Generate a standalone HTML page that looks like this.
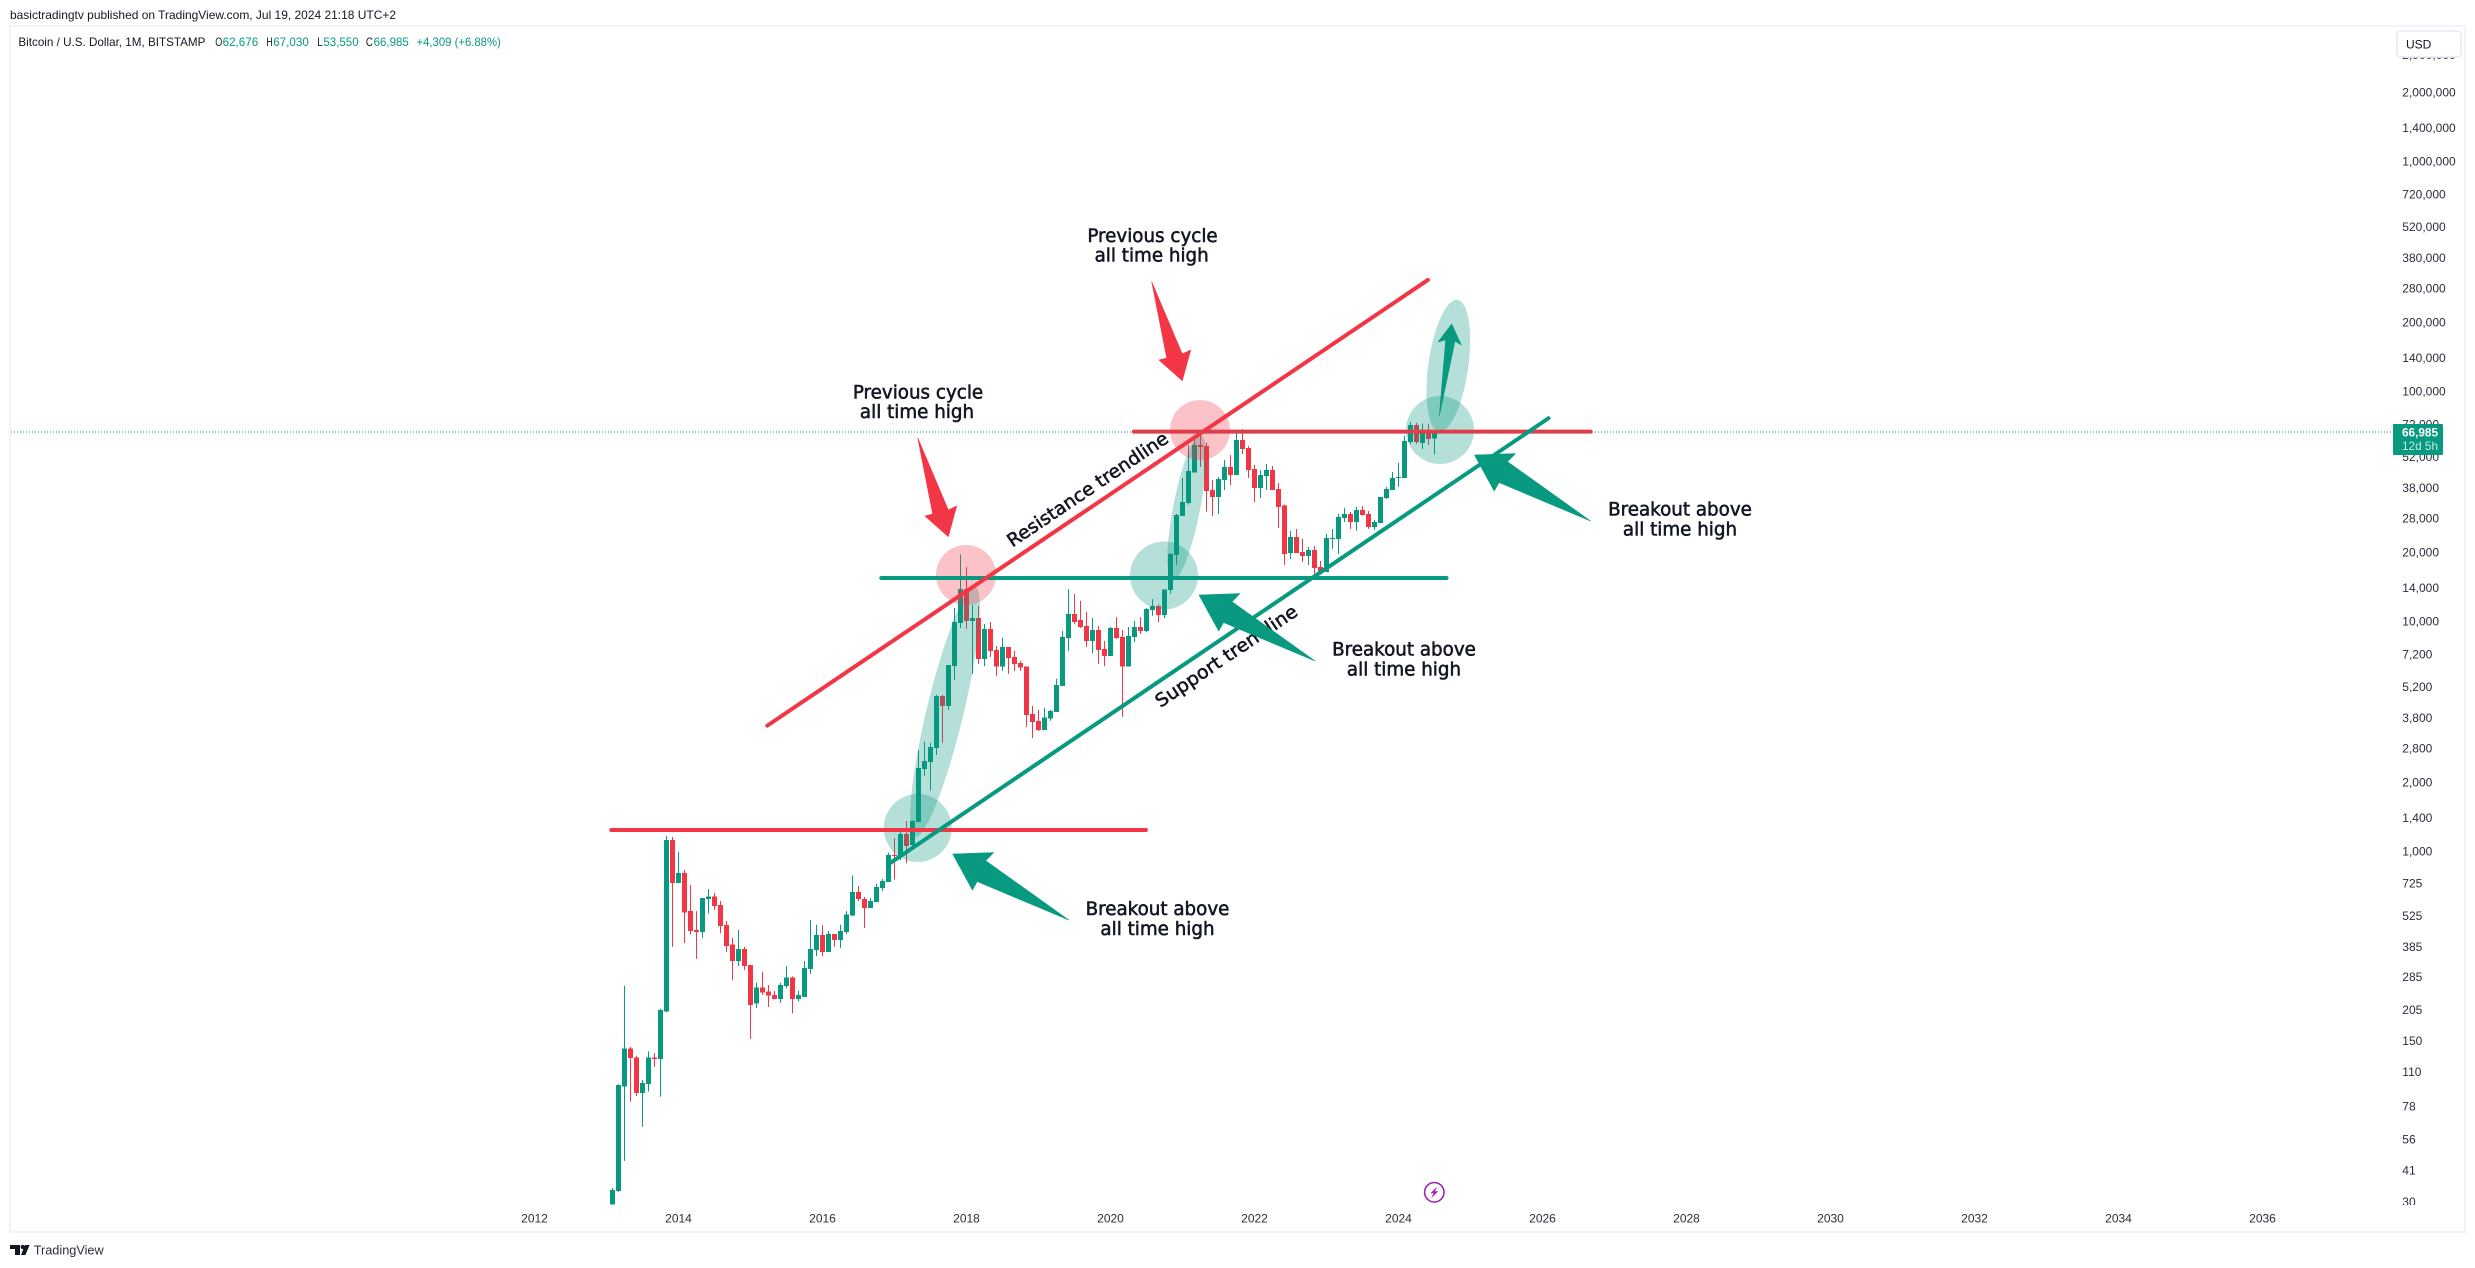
<!DOCTYPE html>
<html lang="en">
<head>
<meta charset="utf-8">
<title>Bitcoin / U.S. Dollar chart</title>
<style>
html,body{margin:0;padding:0;background:#fff;width:2475px;height:1268px;overflow:hidden}
svg{display:block}
text{font-family:"Liberation Sans",sans-serif;fill:#131722}
.note{font-family:"DejaVu Sans","Liberation Sans",sans-serif;font-size:18.3px;text-anchor:middle;dominant-baseline:central;stroke:#131722;stroke-width:.55}
.tick{font-size:12px;dominant-baseline:central;fill:#2a2e39}
.lg{font-size:12px;dominant-baseline:central}
.g{fill:#089981}
</style>
</head>
<body>
<svg id="chart" xmlns="http://www.w3.org/2000/svg" width="2475" height="1268" viewBox="0 0 2475 1268">
  <defs>
    <clipPath id="axis-clip"><rect x="2390" y="57" width="75" height="1148"/></clipPath>
  </defs>
  <rect x="0" y="0" width="2475" height="1268" fill="#ffffff"/>
  <rect x="10" y="26" width="2455" height="1206" fill="none" stroke="#f0f3fa" stroke-width="2"/>
  <text class="lg" x="10" y="15" textLength="386" lengthAdjust="spacingAndGlyphs">basictradingtv published on TradingView.com, Jul 19, 2024 21:18 UTC+2</text>
  <g>
    <text class="lg" x="18.4" y="42" textLength="187" lengthAdjust="spacingAndGlyphs">Bitcoin / U.S. Dollar, 1M, BITSTAMP</text>
    <text class="lg" x="215.3" y="42" textLength="7" lengthAdjust="spacingAndGlyphs">O</text>
    <text class="lg g" x="222.6" y="42" textLength="35.6" lengthAdjust="spacingAndGlyphs">62,676</text>
    <text class="lg" x="266.3" y="42" textLength="6.5" lengthAdjust="spacingAndGlyphs">H</text>
    <text class="lg g" x="273.2" y="42" textLength="35.6" lengthAdjust="spacingAndGlyphs">67,030</text>
    <text class="lg" x="317.2" y="42" textLength="5.5" lengthAdjust="spacingAndGlyphs">L</text>
    <text class="lg g" x="323.4" y="42" textLength="35.2" lengthAdjust="spacingAndGlyphs">53,550</text>
    <text class="lg" x="365.9" y="42" textLength="7" lengthAdjust="spacingAndGlyphs">C</text>
    <text class="lg g" x="373.6" y="42" textLength="35.2" lengthAdjust="spacingAndGlyphs">66,985</text>
    <text class="lg g" x="416.5" y="42" textLength="84.3" lengthAdjust="spacingAndGlyphs">+4,309 (+6.88%)</text>
  </g>
  <g id="y-axis" clip-path="url(#axis-clip)"></g>
  <g id="x-axis"></g>
  <g id="candles"></g>
  <g fill="#089981" fill-opacity=".3">
    <ellipse cx="945" cy="712" rx="18.5" ry="128.5" transform="rotate(13.5 945 712)"/>
    <ellipse cx="1186.7" cy="507.7" rx="13.5" ry="74" transform="rotate(11 1186.7 507.7)"/>
    <ellipse cx="1448.3" cy="365.7" rx="20" ry="66.5" transform="rotate(8 1448.3 365.7)"/>
  </g>
  <g>
    <circle cx="966" cy="575" r="30" fill="#f23645" fill-opacity=".3"/>
    <circle cx="1200" cy="430" r="30" fill="#f23645" fill-opacity=".3"/>
    <circle cx="917.7" cy="828" r="34" fill="#089981" fill-opacity=".3"/>
    <circle cx="1164" cy="575.5" r="34" fill="#089981" fill-opacity=".3"/>
    <circle cx="1440" cy="430" r="34" fill="#089981" fill-opacity=".3"/>
  </g>
  <g id="trendlines"></g>
  <text class="note" transform="translate(1088 490) rotate(-34)" x="0" y="0" textLength="190" lengthAdjust="spacingAndGlyphs">Resistance trendline</text>
  <text class="note" transform="translate(1226.7 656.7) rotate(-34)" x="0" y="0" textLength="167" lengthAdjust="spacingAndGlyphs">Support trendline</text>
  <g fill="#089981" stroke="#089981" stroke-width=".6" stroke-linejoin="round">
    <polygon transform="translate(952.7 854)" points="0,0 41,-1.5 33,6.7 116,66 24.5,27.5 19.7,36"/>
    <polygon transform="translate(1199 595)" points="0,0 41,-1.5 33,6.7 116,66 24.5,27.5 19.7,36"/>
    <polygon transform="translate(1474.5 455)" points="0,0 41,-1.5 33,6.7 116,66 24.5,27.5 19.7,36"/>
    <polygon points="1439.3,416 1445.7,340 1438,342 1451.7,324 1461.3,345 1455,341"/>
  </g>
  <g fill="#f23645" stroke="#f23645" stroke-width=".6" stroke-linejoin="round">
    <polygon points="917.7,437.7 948.3,510 956.7,506 948.3,536.7 925,516 932.7,514"/>
    <polygon points="1151.7,281.7 1182.3,354 1190.7,350 1182.3,380.7 1159,360 1166.7,358"/>
  </g>
  <g>
    <text class="note" x="918" y="393">Previous cycle</text>
    <text class="note" x="917" y="412.5">all time high</text>
    <text class="note" x="1152.5" y="236.7">Previous cycle</text>
    <text class="note" x="1151.7" y="256">all time high</text>
    <text class="note" x="1157.5" y="909.5">Breakout above</text>
    <text class="note" x="1157.5" y="929.5">all time high</text>
    <text class="note" x="1404" y="650">Breakout above</text>
    <text class="note" x="1404" y="670">all time high</text>
    <text class="note" x="1680" y="510">Breakout above</text>
    <text class="note" x="1680" y="530">all time high</text>
  </g>
  <line id="last-price-line" x1="11" x2="2393" stroke="#089981" stroke-width="1" stroke-dasharray="1 2"/>
  <g>
    <rect x="2393" y="424" width="50" height="31" rx="1" fill="#089981"/>
    <text class="tick" x="2402" y="432.3" style="fill:#ffffff;font-weight:bold" textLength="36" lengthAdjust="spacingAndGlyphs">66,985</text>
    <text class="tick" x="2402" y="446" style="fill:#c6e8e1" textLength="36" lengthAdjust="spacingAndGlyphs">12d 5h</text>
  </g>
  <g>
    <rect x="2397" y="31" width="64" height="26" rx="4" fill="#ffffff" stroke="#e6e9f2" stroke-width="1.5"/>
    <text class="tick" x="2406" y="44.7" style="fill:#131722">USD</text>
  </g>
  <g>
    <circle cx="1434.3" cy="1192.3" r="9.7" fill="#ffffff" stroke="#9c27b0" stroke-width="1.6"/>
    <polygon fill="#9c27b0" points="1437.5,1186.5 1430.3,1193.2 1433.6,1193.2 1431.2,1198.2 1438.4,1191.2 1435,1191.2"/>
  </g>
  <g>
    <path fill="#131722" d="M10 1245h10v10h-5v-6h-5zM25 1245h4.6l-4.2 10h-4.4zM20.6 1247a2.1 2.1 0 1 1 4.2 0a2.1 2.1 0 1 1-4.2 0z"/>
    <text x="33.7" y="1250" dominant-baseline="central" font-size="13" textLength="70" lengthAdjust="spacingAndGlyphs" style="fill:#2a2e39">TradingView</text>
  </g>
</svg>
<script>
// Monthly candles, first bar = February 2013, last bar = July 2024
const opens = [29.3,33.6,95.5,140,128,89.6,98,128,125.7,203,1128,733,810,553,458,449,624,642,588,481,396,336,379,323,219,257,247,239,229,262,285,229,234,310,375,436,368,440,415,449,530,670,624,571,606,697,742,972,962,1198,1070,
1352,2290,2466,2835,4770,4320,6430,9890,13900,10100,10400,6910,9330,7560,6390,7780,7050,6640,6390,3990,3720,3400,3800,4070,5270,8530,10850,10200,9610,8270,9230,7640,7130,9415,8610,6390,8610,9510,9140,11280,11730,10730,
13790,19510,28900,32910,44700,58800,58200,37500,34950,41440,47200,43550,61700,57100,46300,38290,43130,45700,37900,32050,19950,23400,20190,19400,20600,17360,16500,23000,23000,28340,29490,27200,
30700,29500,25900,26900,34620,37500,42300,42300,60700,72000,60100,66400,62676];
const highs = [34.6,97.8,262,142,130,102,136,133.4,208,1175,1162,1000,835,719,553,630,690,665,612,501,423,458,387,323,270,301,264,249,270,319,288,249,336,506,483,480,453,440,483,553,790,712,638,630,728,764,992,1150,1222,1364,1371,
2770,3010,2982,4820,4820,6500,11500,19666,17300,11850,11750,9800,10000,7870,8530,7780,7480,6770,6390,4320,4148,4230,4148,5660,9140,13900,13230,12370,11060,10400,9610,8270,9510,10500,9230,9510,10100,10500,11500,12570,11950,13880,
19950,29490,42270,58800,61700,65000,60200,41440,42700,50600,53200,66900,69000,58200,48170,45700,48650,47660,40200,32400,24900,25380,23000,21200,21420,18440,24170,25380,29490,31300,30100,31660,
31960,30400,27800,34970,38700,44950,49200,64400,74200,73500,72800,72800,67030];
const lows = [29.3,33.3,45.4,82.1,86.9,63.8,91,116.4,86.3,201,387,733,402,438,343,424,541,560,444,368,277,319,307,154,210,239,212,229,221,255,199,224,234,295,352,352,368,387,383,440,526,612,467,571,606,676,742,759,923,894,1061,
1352,2143,1850,2640,2982,4148,5600,9415,9330,5950,6570,6430,7050,5830,6130,5950,6130,6130,3500,3130,3360,3400,3720,4070,5270,7480,9800,9415,7780,7330,6570,6430,7130,8440,3870,6390,8190,8870,9040,10650,9970,10400,
13250,17710,28900,32400,44700,47200,30100,28900,29490,37500,39400,43550,53700,42270,33260,34600,37500,37500,25630,17710,18800,19950,18260,17710,15550,16340,16500,20800,19760,27200,25380,24900,
29000,25400,25150,26900,34300,37500,38700,42300,59500,59500,56600,58900,53550];
const closes = [33.9,97.1,140,127,89.6,99,128,125.7,206,1128,733,810,547,453,449,630,642,582,476,390,336,379,319,216,257,245,238,229,264,285,229,239,313,379,436,368,440,415,453,536,670,624,571,612,705,749,972,962,1198,1061,1364,
2315,2490,2865,4770,4320,6500,9990,13900,10100,10400,6910,9330,7480,6390,7780,6980,6570,6330,3950,3680,3400,3840,4110,5330,8610,10850,9990,9500,8270,9230,7560,7130,9415,8530,6390,8680,9510,9140,11400,11730,10730,13880,
19760,29200,33260,45370,58800,57600,37100,34950,41850,47200,43550,61700,56500,45700,38290,43550,45700,37500,31660,19760,23400,19950,19400,20600,17180,16500,23200,23200,28640,29490,27200,30700,
29210,25900,27250,34970,37900,42300,42700,61300,72000,60700,67800,62500,66985];
const priceTicks = [2900000,2000000,1400000,1000000,720000,520000,380000,280000,200000,140000,100000,72000,52000,38000,28000,20000,14000,10000,7200,5200,3800,2800,2000,1400,1000,725,525,385,285,205,150,110,78,56,41,30];
const yearTicks = [2012,2014,2016,2018,2020,2022,2024,2026,2028,2030,2032,2034,2036];
const lastPrice = 66985;
// Trendlines as [start bar, start price, end bar, end price]
const resistanceTrend = [25.8,3544,135.9,307000];
const supportTrend = [46.3,896,156,76900];
const highLine2013 = [-0.2,1247,88.9,1247];
const highLine2017 = [44.8,15530,139,15530];
const highLine2021 = [86.9,67240,163,67240];

const NS = 'http://www.w3.org/2000/svg';
const GREEN = '#089981';
const RED = '#f23645';
function xOf(bar){ return 612.5 + 6 * bar; }
function yOf(price){ return 622 - 230 * Math.log10(price / 10000); }
function yearBar(year){ return (year - 2013) * 12 - 1; }
function make(tag, parent){
  const el = document.createElementNS(NS, tag);
  parent.appendChild(el);
  return el;
}
function attrs(el, map){
  for (const k in map) el.setAttribute(k, map[k]);
}

const yAxis = document.getElementById('y-axis');
priceTicks.forEach(function(p){
  const t = make('text', yAxis);
  
  
  attrs(t, {x: 2402.3, y: yOf(p) - 0.5, class: 'tick'});
  t.textContent = p.toLocaleString('en-US');
});

const xAxis = document.getElementById('x-axis');
yearTicks.forEach(function(year){
  const t = make('text', xAxis);
  
  
  attrs(t, {x: xOf(yearBar(year)), y: 1218.7, class: 'tick', 'text-anchor': 'middle'});
  t.textContent = String(year);
});

const candles = document.getElementById('candles');
opens.forEach(function(open, i){
  const close = closes[i];
  const color = close >= open ? GREEN : RED;
  const cx = xOf(i);
  const wick = make('rect', candles);
  
  
  attrs(wick, {x: cx - 0.5, y: yOf(highs[i]), width: 1, height: Math.max(1, yOf(lows[i]) - yOf(highs[i])), fill: color});
  const top = Math.min(yOf(open), yOf(close));
  const bottom = Math.max(yOf(open), yOf(close));
  const body = make('rect', candles);
  
  
  attrs(body, {x: cx - 2.5, y: top, width: 5, height: Math.max(1, bottom - top), fill: color, 'shape-rendering': 'crispEdges'});
});

const trendGroup = document.getElementById('trendlines');
function drawLine(spec, color, name){
  const l = make('line', trendGroup);
  
  
  attrs(l, {x1: xOf(spec[0]), y1: yOf(spec[1]), x2: xOf(spec[2]), y2: yOf(spec[3]), stroke: color, 'stroke-width': 4, 'stroke-linecap': 'round'});
}
drawLine(highLine2013, RED, 'all-time-high-line-2013');
drawLine(highLine2017, GREEN, 'all-time-high-line-2017');
drawLine(highLine2021, RED, 'all-time-high-line-2021');
drawLine(resistanceTrend, RED, 'resistance-trendline');
drawLine(supportTrend, GREEN, 'support-trendline');

const lastLine = document.getElementById('last-price-line');
lastLine.setAttribute('y1', yOf(lastPrice));
lastLine.setAttribute('y2', yOf(lastPrice));
</script>
</body>
</html>
